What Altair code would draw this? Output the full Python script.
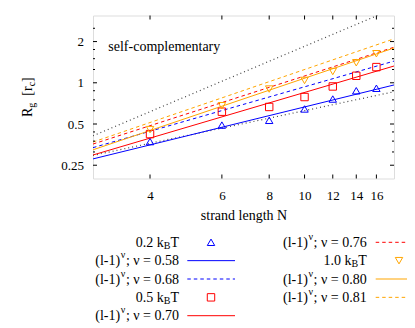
import altair as alt
import pandas as pd

SERIF = "Liberation Serif, Times New Roman, Times, serif"

# ---------------- data ----------------
N = [4, 6, 8, 10, 12, 14, 16]
rg_02 = [0.372, 0.491, 0.532, 0.644, 0.761, 0.875, 0.912]   # 0.2 kBT
rg_05 = [0.422, 0.615, 0.666, 0.787, 0.940, 1.125, 1.302]   # 0.5 kBT
rg_10 = [0.455, 0.680, 0.900, 1.040, 1.209, 1.400, 1.630]   # 1.0 kBT

# power-law lines (l-1)^nu, value read at N = 3 and N = 18
fit_N = [3, 18]
fit_nu = ["0.58", "0.68", "0.70", "0.76", "0.80", "0.81"]
fit_start = [0.278, 0.336, 0.297, 0.357, 0.324, 0.369]
fit_end = [0.964, 1.440, 1.326, 1.818, 1.795, 2.093]

# two grey guide lines (unlabelled)
guide_start = [0.410, 0.295]
guide_end = [3.490, 0.860]

x_tick_N = [4, 6, 8, 10, 12, 14, 16]
y_ticks = [0.25, 0.5, 1, 2]
y_minor = [0.3125, 0.375, 0.4375, 0.625, 0.75, 0.875, 1.25, 1.5, 1.75, 2.5]

# ---------------- styles ----------------
BLUE, RED, ORANGE, GREY = "#0000ff", "#ff0000", "#ffa500", "#444444"
fit_color = [BLUE, BLUE, RED, RED, ORANGE, ORANGE]
fit_dashed = [False, True, False, True, False, True]
DASH = [3.5, 3]
DOT = [1, 3]

W, H = 301, 163
OX, OY = 93, 15.5          # page position of plot-area origin


def px(v):
    return v - OX


def py(v):
    return v - OY


xs = alt.Scale(type="log", domain=[2, 17], nice=False)
ys = alt.Scale(type="log", domain=[0.2, 3.1], nice=False)

x_axis = alt.Axis(values=[n - 1 for n in x_tick_N], labelExpr="datum.value + 1",
                  ticks=False, tickSize=0, domain=False, grid=False,
                  labelFont=SERIF, labelFontSize=13, labelColor="black",
                  labelPadding=11, labelFlush=False, labelOverlap=False,
                  title="strand length  N", titleFont=SERIF, titleFontSize=14,
                  titleFontWeight="normal", titleColor="black", titlePadding=6)
y_axis = alt.Axis(values=y_ticks, format="~g", ticks=False, tickSize=0,
                  domain=False, grid=False, labelFont=SERIF, labelFontSize=13,
                  labelColor="black", labelPadding=9.5, labelFlush=False,
                  labelOverlap=False, title=None)


def X():
    return alt.X("x:Q", scale=xs, axis=x_axis)


def Y():
    return alt.Y("y:Q", scale=ys, axis=y_axis)


layers = []

# guide lines
for s, e in zip(guide_start, guide_end):
    d = pd.DataFrame({"x": [n - 1 for n in fit_N], "y": [s, e]})
    layers.append(alt.Chart(d).mark_line(color=GREY, strokeWidth=1.2,
                                         strokeDash=DOT, clip=True)
                  .encode(x=X(), y=Y()))

# fit lines
for s, e, c, dsh in zip(fit_start, fit_end, fit_color, fit_dashed):
    d = pd.DataFrame({"x": [n - 1 for n in fit_N], "y": [s, e]})
    kw = dict(color=c, strokeWidth=1, clip=True)
    if dsh:
        kw["strokeDash"] = DASH
    layers.append(alt.Chart(d).mark_line(**kw).encode(x=X(), y=Y()))

# data points
for vals, c, shp in [(rg_02, BLUE, "triangle-up"), (rg_05, RED, "square"),
                     (rg_10, ORANGE, "triangle-down")]:
    d = pd.DataFrame({"x": [n - 1 for n in N], "y": vals})
    layers.append(alt.Chart(d).mark_point(shape=shp, filled=False, color=c,
                                          size=55, strokeWidth=1, opacity=1)
                  .encode(x=X(), y=Y()))

# inward ticks
xt = pd.DataFrame({"x": [n - 1 for n in x_tick_N]})
for y0, y1 in [(H, H - 4), (0, 4)]:
    layers.append(alt.Chart(xt).mark_rule(color="black", strokeWidth=1)
                  .encode(x=X(), y=alt.value(y0), y2=alt.value(y1)))
for vals, ln in [(y_ticks, 4), (y_minor, 2)]:
    yt = pd.DataFrame({"y": vals})
    for x0, x1 in [(0, ln), (W, W - ln)]:
        layers.append(alt.Chart(yt).mark_rule(color="black", strokeWidth=1)
                      .encode(y=Y(), x=alt.value(x0), x2=alt.value(x1)))

# ---------------- text helpers ----------------
one = pd.DataFrame({"k": [0]})
TW = {'0': .5, '1': .5, '2': .5, '3': .5, '4': .5, '5': .5, '6': .5, '7': .5,
      '8': .5, '9': .5, '.': .25, ' ': .25, 'k': .5, 'B': .667, 'T': .611,
      '(': .333, ')': .333, 'l': .278, '-': .333, ';': .278, 'ν': .5,
      '=': .564, 'R': .667, 'g': .5, '[': .333, ']': .333, 'r': .333,
      'c': .444}


def tw(s, size):
    return sum(TW.get(ch, 0.5) for ch in s) * size


def txt(s, x, y, size=14, align="left", angle=0):
    kw = dict(font=SERIF, fontSize=size, align=align, baseline="alphabetic",
              color="black")
    if angle:
        kw["angle"] = angle
    return alt.Chart(one).mark_text(**kw).encode(
        x=alt.value(x), y=alt.value(y), text=alt.value(s))


layers.append(txt("self-complementary", px(108.3), py(51)))

# y-axis title  R_g  [r_c]  (rotated)
bx, sx = px(32), px(35)
yy = py(117)
for s, size, xx in [("R", 14, bx), ("g", 10, sx), ("  ", 14, None),
                    ("[r", 14, bx), ("c", 10, sx), ("]", 14, bx)]:
    if xx is not None:
        layers.append(txt(s, xx, yy, size=size, angle=270))
    yy -= tw(s, size) if s.strip() else 7

# ---------------- legend (key) ----------------
rows = [242.3, 260.65, 279.0, 297.35, 315.7]
cols = [dict(tr=179, l0=187.3, l1=235, sym=211),
        dict(tr=366.7, l0=375.7, l1=423, sym=399)]

entries = [
    (0, 0, "sym", BLUE, "triangle-up", "0.2"),
    (0, 1, "line", BLUE, False, "0.58"),
    (0, 2, "line", BLUE, True, "0.68"),
    (0, 3, "sym", RED, "square", "0.5"),
    (0, 4, "line", RED, False, "0.70"),
    (1, 0, "line", RED, True, "0.76"),
    (1, 1, "sym", ORANGE, "triangle-down", "1.0"),
    (1, 2, "line", ORANGE, False, "0.80"),
    (1, 3, "line", ORANGE, True, "0.81"),
]

for ci, ri, kind, c, st, lab in entries:
    col = cols[ci]
    yr = rows[ri]
    base = py(yr + 4.6)
    tr = px(col["tr"])
    if kind == "sym":
        layers.append(txt("T", tr, base, align="right"))
        w1 = tw("T", 14)
        layers.append(txt("B", tr - w1, base + 2, size=10, align="right"))
        w2 = tw("B", 10)
        layers.append(txt(lab + " k", tr - w1 - w2, base, align="right"))
        layers.append(alt.Chart(one).mark_point(shape=st, filled=False, color=c,
                                                size=55, strokeWidth=1, opacity=1)
                      .encode(x=alt.value(px(col["sym"])), y=alt.value(py(yr))))
    else:
        main = "; ν = " + lab
        layers.append(txt(main, tr, base, align="right"))
        w1 = tw(main, 14)
        layers.append(txt("ν", tr - w1, base - 7, size=10, align="right"))
        w2 = tw("ν", 10)
        layers.append(txt("(l-1)", tr - w1 - w2, base, align="right"))
        kw = dict(color=c, strokeWidth=1)
        if st:
            kw["strokeDash"] = DASH
        layers.append(alt.Chart(one).mark_rule(**kw).encode(
            x=alt.value(px(col["l0"])), x2=alt.value(px(col["l1"])),
            y=alt.value(py(yr))))

chart = alt.layer(*layers).properties(
    width=W, height=H,
    padding={"left": 85, "top": 7.5, "right": 13, "bottom": 149.5},
    autosize=alt.AutoSizeParams(type="none"),
).configure_view(stroke="#222222", strokeWidth=1).configure(background="white")

chart.save("out.html", embed_options={"renderer": "svg", "actions": False})
